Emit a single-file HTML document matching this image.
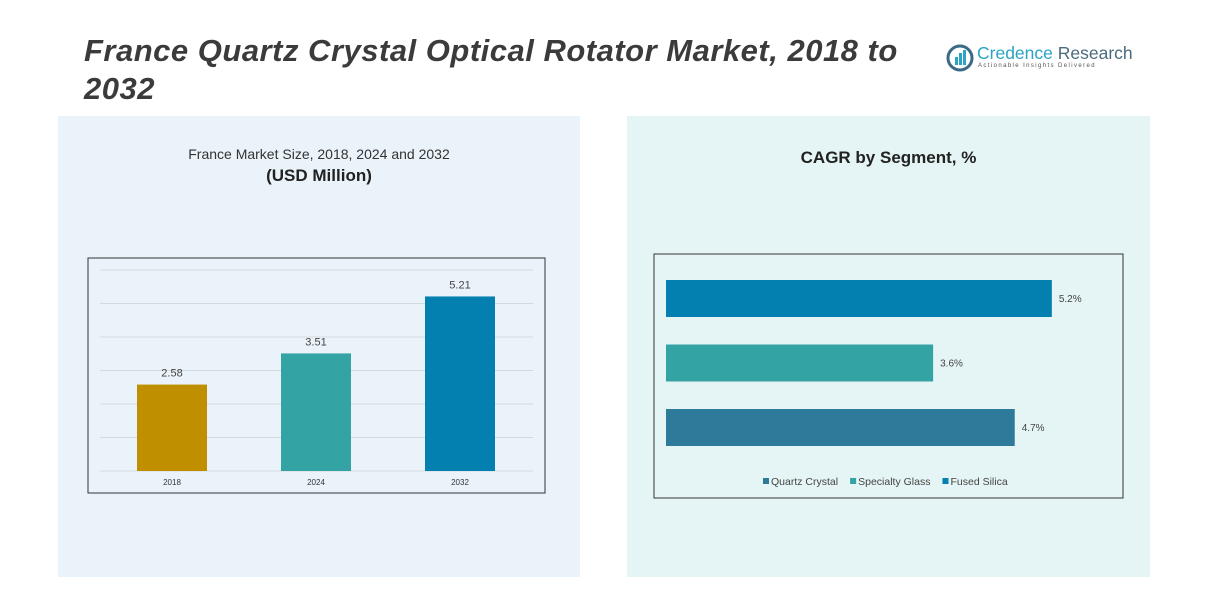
<!DOCTYPE html>
<html><head><meta charset="utf-8"><style>
body{margin:0;width:1223px;height:591px;background:#fff;position:relative;overflow:hidden;font-family:"Liberation Sans",sans-serif}
.abs{position:absolute}
</style></head><body>
<div class="abs" style="left:58px;top:116px;width:522px;height:461px;background:#eaf3fa"></div>
<div class="abs" style="left:627px;top:116px;width:523px;height:461px;background:#e5f4f4"></div>
<div class="abs" style="left:84px;top:32px;width:840px;font-size:31px;letter-spacing:0.5px;font-weight:bold;font-style:italic;color:#3b3b3b;line-height:38px">France Quartz Crystal Optical Rotator Market, 2018 to 2032</div>
<div class="abs" style="left:946px;top:42px;width:180px">
<svg width="28" height="28" style="position:absolute;left:0;top:2px"><circle cx="14" cy="14" r="12" fill="none" stroke="#3c6a86" stroke-width="3"/><rect x="9" y="13" width="3" height="8" fill="#2aa3c4"/><rect x="13" y="9" width="3" height="12" fill="#2aa3c4"/><rect x="17" y="6" width="3" height="15" fill="#2aa3c4"/></svg>
<div style="position:absolute;left:31px;top:1px;font-size:17.5px;color:#2aa3c4;white-space:nowrap">Credence <span style="color:#4a6b80">Research</span></div>
<div style="position:absolute;left:32px;top:21px;font-size:6px;letter-spacing:1.4px;color:#555;white-space:nowrap">Actionable Insights Delivered</div>
</div>
<div class="abs" style="left:88px;top:146px;width:462px;text-align:center;font-size:14px;color:#333">France Market Size, 2018, 2024 and 2032</div>
<div class="abs" style="left:88px;top:166px;width:462px;text-align:center;font-size:17px;font-weight:bold;color:#222">(USD Million)</div>
<div class="abs" style="left:627px;top:148px;width:523px;text-align:center;font-size:17px;font-weight:bold;color:#222">CAGR by Segment, %</div>
<svg class="abs" style="left:0;top:0" width="1223" height="591" id="svg">
<rect x="88" y="258" width="457" height="235" fill="none" stroke="#333" stroke-width="1"/>
<rect x="654" y="254" width="469" height="244" fill="none" stroke="#333" stroke-width="1"/>
<g id="left"></g><g id="right"></g>
</svg>
<script>
const years=["2018","2024","2032"];
const sizes=[2.58,3.51,5.21];
const barColors=["#c08f00","#34a3a3","#0380b0"];
const gridTicks=[0,1,2,3,4,5,6];
const segments=["Fused Silica","Specialty Glass","Quartz Crystal"];
const cagr=[5.2,3.6,4.7];
const segColors=["#0380b0","#34a3a3","#2e7a9a"];
const legendNames=["Quartz Crystal","Specialty Glass","Fused Silica"];
const legendColors=["#2e7a9a","#34a3a3","#0380b0"];
const NS="http://www.w3.org/2000/svg";
function mk(p,t,a){const e=document.createElementNS(NS,t);for(const k in a)e.setAttribute(k,a[k]);p.appendChild(e);return e;}
const L=document.getElementById('left');
const y=v=>471-v*33.5;
const xc=i=>172+i*144;
gridTicks.forEach(t=>{const g=mk(L,'line',{x1:100,x2:533,y1:y(t),y2:y(t),stroke:'#d4d9dd','stroke-width':1});

});
sizes.forEach((v,i)=>{const r=mk(L,'rect',{x:xc(i)-35,y:y(v),width:70,height:y(0)-y(v),fill:barColors[i]});


const t=mk(L,'text',{x:xc(i),y:y(v)-8,'text-anchor':'middle','font-size':11,fill:'#444'});t.textContent=v.toFixed(2);


const c=mk(L,'text',{x:xc(i),y:485,'text-anchor':'middle','font-size':8,fill:'#333'});c.textContent=years[i];

});
const R=document.getElementById('right');
const xs=v=>666+v*74.2;
const yb=i=>280+i*64.5;
cagr.forEach((v,i)=>{const r=mk(R,'rect',{x:666,y:yb(i),width:xs(v)-666,height:37,fill:segColors[i]});


const t=mk(R,'text',{x:xs(v)+7,y:yb(i)+22,'font-size':10,fill:'#444'});t.textContent=v.toFixed(1)+'%';

});
let lx=763;
legendNames.forEach((n,i)=>{const s=mk(R,'rect',{x:lx,y:478,width:6,height:6,fill:legendColors[i]});


const t=mk(R,'text',{x:lx+8,y:485,'font-size':10.5,fill:'#444'});t.textContent=n;


lx+=8+t.getComputedTextLength()+12;});
</script>
</body></html>
